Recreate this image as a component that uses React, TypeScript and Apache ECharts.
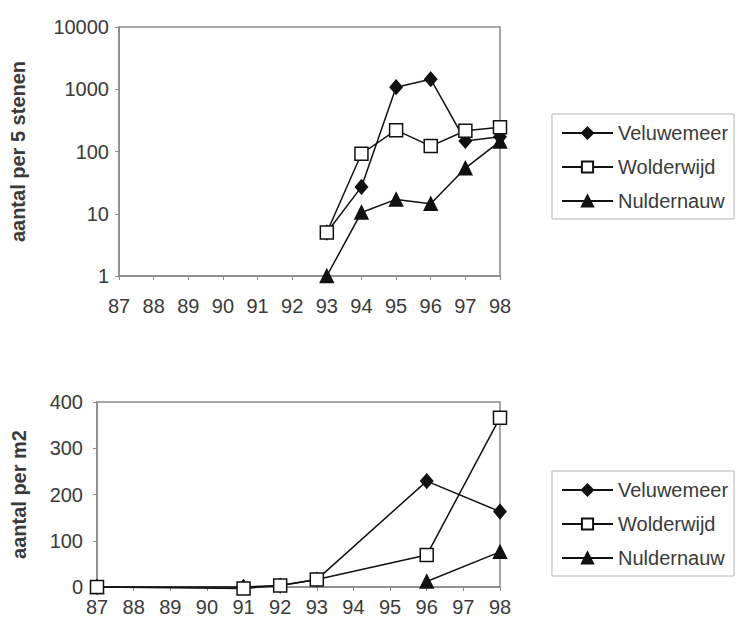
import React, { useEffect, useRef } from "react";
import * as echarts from "echarts";

const years = ["87", "88", "89", "90", "91", "92", "93", "94", "95", "96", "97", "98"];
const seriesNames = ["Veluwemeer", "Wolderwijd", "Nuldernauw"];

// top chart: aantal per 5 stenen (log scale)
const topVeluwemeer = [null, null, null, null, null, null, 5, 27, 1080, 1450, 148, 172];
const topWolderwijd = [null, null, null, null, null, null, 5, 92, 220, 122, 215, 245];
const topNuldernauw = [null, null, null, null, null, null, 1, 10.5, 17, 14.5, 54, 145];

// bottom chart: aantal per m2
const botVeluwemeer = [0, null, null, null, 0, 3, 16, null, null, 229, null, 163];
const botWolderwijd = [0, null, null, null, -3, 3, 16, null, null, 69, null, 366];
const botNuldernauw87 = [0, null, null, null, null, null, null, null, null, null, null, null];
const botNuldernauw = [null, null, null, null, null, null, null, null, null, 12, null, 76];

const topTicks = [1, 10, 100, 1000, 10000];
const botTicks = [0, 100, 200, 300, 400];

const FONT = "Liberation Sans, Arial, sans-serif";
const TXT = "#3a3a3a";
const AX = "#8a8a8a";

const symbols: Record<string, { symbol: string; size: number | number[]; fill: string; z: number }> = {
  Veluwemeer: { symbol: "diamond", size: [12, 14], fill: "#111", z: 2 },
  Wolderwijd: { symbol: "rect", size: 13, fill: "#fff", z: 4 },
  Nuldernauw: { symbol: "triangle", size: 13, fill: "#111", z: 3 },
};

function mkSeries(name: string, data: (number | null)[], gi: number, connect: boolean) {
  const s = symbols[name];
  return {
    type: "line",
    name,
    data,
    xAxisIndex: gi,
    yAxisIndex: gi,
    connectNulls: connect,
    symbol: s.symbol,
    symbolSize: s.size,
    showSymbol: true,
    showAllSymbol: true,
    clip: false,
    z: s.z,
    lineStyle: { color: "#111", width: 1.5 },
    itemStyle: { color: s.fill, borderColor: "#111", borderWidth: 1.5 },
    emphasis: { disabled: true },
  };
}

function xAxis(gi: number, margin: number) {
  return {
    type: "category",
    gridIndex: gi,
    data: years,
    boundaryGap: false,
    axisLine: { lineStyle: { color: AX, width: 1.5 } },
    axisTick: { show: true, length: 4, lineStyle: { color: AX } },
    axisLabel: { color: TXT, fontSize: 20, fontFamily: FONT, margin, interval: 0 },
    splitLine: { show: false },
  };
}

function legend(top: number) {
  return {
    orient: "vertical",
    left: 552,
    top,
    data: seriesNames,
    itemWidth: 51,
    itemHeight: 14,
    itemGap: 12,
    padding: [8, 6, 7, 9],
    borderColor: "#b5b5b5",
    borderWidth: 1,
    textStyle: { color: TXT, fontSize: 20, fontFamily: FONT, lineHeight: 22 },
    selectedMode: false,
  };
}

export default function App() {
  const ref = useRef<HTMLDivElement>(null);
  useEffect(() => {
    if (!ref.current) return;
    const chart = echarts.init(ref.current, null, { renderer: "svg" });
    chart.setOption({
      animation: false,
      backgroundColor: "#fff",
      grid: [
        { left: 119, top: 27, right: 244, bottom: 352, show: true, borderColor: AX, borderWidth: 1.5, backgroundColor: "#fff" },
        { left: 97, top: 402, right: 244, bottom: 41, show: true, borderColor: AX, borderWidth: 1.5, backgroundColor: "#fff" },
      ],
      legend: [legend(114), legend(471)],
      xAxis: [xAxis(0, 20), xAxis(1, 10)],
      yAxis: [
        {
          type: "log",
          logBase: 10,
          gridIndex: 0,
          min: topTicks[0],
          max: topTicks[topTicks.length - 1],
          name: "aantal per 5 stenen",
          nameLocation: "middle",
          nameRotate: 90,
          nameGap: 91,
          nameTextStyle: { color: TXT, fontSize: 20, fontWeight: "bold", fontFamily: FONT },
          axisLine: { show: true, lineStyle: { color: AX, width: 1.5 } },
          axisTick: { show: true, length: 4, lineStyle: { color: AX } },
          axisLabel: { color: TXT, fontSize: 20, fontFamily: FONT, margin: 10, formatter: (v: number) => String(Math.round(v)) },
          splitLine: { show: false },
          minorTick: { show: false },
        },
        {
          type: "value",
          gridIndex: 1,
          min: botTicks[0],
          max: botTicks[botTicks.length - 1],
          interval: 100,
          name: "aantal per m2",
          nameLocation: "middle",
          nameRotate: 90,
          nameGap: 68,
          nameTextStyle: { color: TXT, fontSize: 20, fontWeight: "bold", fontFamily: FONT },
          axisLine: { show: true, lineStyle: { color: AX, width: 1.5 } },
          axisTick: { show: true, length: 4, lineStyle: { color: AX } },
          axisLabel: { color: TXT, fontSize: 20, fontFamily: FONT, margin: 14 },
          splitLine: { show: false },
        },
      ],
      series: [
        mkSeries("Veluwemeer", topVeluwemeer, 0, true),
        mkSeries("Wolderwijd", topWolderwijd, 0, true),
        mkSeries("Nuldernauw", topNuldernauw, 0, true),
        mkSeries("Veluwemeer", botVeluwemeer, 1, true),
        mkSeries("Wolderwijd", botWolderwijd, 1, true),
        mkSeries("Nuldernauw", botNuldernauw87, 1, true),
        mkSeries("Nuldernauw", botNuldernauw, 1, true),
      ],
    });
    return () => chart.dispose();
  }, []);
  return <div ref={ref} style={{ position: "fixed", left: 0, top: 0, width: 744, height: 628 }} />;
}
